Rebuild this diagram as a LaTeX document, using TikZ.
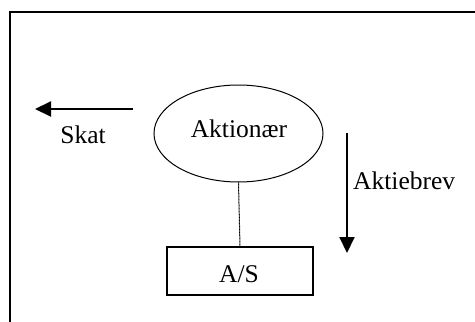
\documentclass[tikz,border=0pt]{standalone}
\usepackage{fontspec}
\setmainfont{Liberation Serif}
\usetikzlibrary{shapes.geometric,arrows.meta}
\begin{document}
\begin{tikzpicture}[x=1pt,y=-1pt,
  txt/.style={font=\fontsize{25.5}{30}\selectfont, inner sep=0pt},
  bigarrow/.style={line width=2pt, -{Triangle[length=16pt,width=15pt]}},
  frame/.style={line width=1.2pt}]
\useasboundingbox (0,0) rectangle (475,322);
% outer frame (extends past the right and bottom edges)
\draw[frame] (10,330) -- (10,12) -- (490,12);
% ellipse and box
\node[draw, ellipse, line width=1pt, minimum width=169pt, minimum height=97pt, inner sep=0pt] (ak) at (238.5,133.5) {};
\node[txt, anchor=base] (aktx) at (239,137) {Aktionær};
\node[draw, rectangle, line width=1.2pt, minimum width=146pt, minimum height=48pt, inner sep=0pt] (as) at (240,271) {};
\node[txt, anchor=base] (astx) at (239,282) {A/S};
% dotted link
\draw[line width=1pt, dash pattern=on 1pt off 0.5pt] (ak.south) -- (as.north);
% left arrow: Skat
\coordinate (s1) at (133,109);
\coordinate (s2) at (35,109);
\draw[bigarrow] (s1) -- (s2);
\node[txt, anchor=base] (skat) at (83,143) {Skat};
% down arrow: Aktiebrev
\coordinate (d1) at (347,133);
\coordinate (d2) at (347,253);
\draw[bigarrow] (d1) -- (d2);
\node[txt, anchor=base west] (brev) at (353,189) {Aktiebrev};
\end{tikzpicture}
\end{document}
